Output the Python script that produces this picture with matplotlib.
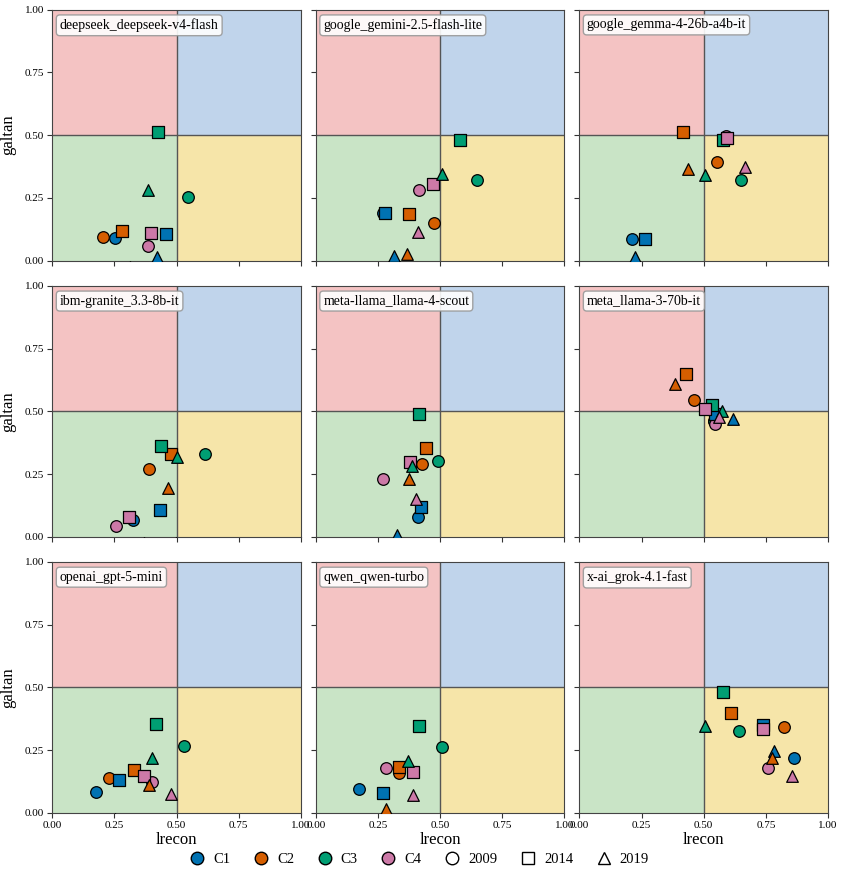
import numpy as np
import matplotlib
matplotlib.use('Agg')
import matplotlib.pyplot as plt
from matplotlib.lines import Line2D

plt.rcParams['font.family'] = ['Liberation Serif', 'DejaVu Serif']

models = ['deepseek_deepseek-v4-flash', 'google_gemini-2.5-flash-lite', 'google_gemma-4-26b-a4b-it',
          'ibm-granite_3.3-8b-it', 'meta-llama_llama-4-scout', 'meta_llama-3-70b-it',
          'openai_gpt-5-mini', 'qwen_qwen-turbo', 'x-ai_grok-4.1-fast']
clusters = ['C1', 'C2', 'C3', 'C4']
years = ['2009', '2014', '2019']

# lrecon per model: rows C1..C4, cols 2009, 2014, 2019 (nan = not visible)
lrecon = [
    [[0.251, 0.457, 0.423], [0.204, 0.281, np.nan], [0.544, 0.426, 0.386], [0.386, 0.398, 0.313]],
    [[0.270, 0.278, 0.314], [0.476, 0.374, 0.365], [0.649, 0.580, 0.506], [0.416, 0.470, 0.412]],
    [[0.213, 0.265, 0.225], [0.552, 0.416, 0.437], [0.652, 0.578, 0.504], [0.590, 0.594, 0.666]],
    [[0.323, 0.434, 0.496], [0.388, 0.477, 0.465], [0.613, 0.438, 0.501], [0.257, 0.310, 0.370]],
    [[0.409, 0.424, 0.327], [0.425, 0.442, 0.374], [0.493, 0.416, 0.386], [0.272, 0.377, 0.404]],
    [[0.540, 0.547, 0.617], [0.461, 0.430, 0.384], [0.540, 0.534, 0.575], [0.546, 0.504, 0.563]],
    [[0.176, 0.270, 0.251], [0.228, 0.327, 0.387], [0.528, 0.419, 0.399], [0.399, 0.368, 0.476]],
    [[0.173, 0.271, np.nan], [0.335, 0.335, 0.284], [0.507, 0.413, 0.369], [0.283, 0.392, 0.391]],
    [[0.863, 0.737, 0.782], [0.823, 0.611, 0.775], [0.642, 0.579, 0.505], [0.757, 0.737, 0.857]],
]
galtan = [
    [[0.091, 0.108, 0.013], [0.093, 0.117, np.nan], [0.252, 0.511, 0.280], [0.060, 0.109, -0.025]],
    [[0.191, 0.191, 0.019], [0.149, 0.184, 0.027], [0.323, 0.480, 0.344], [0.281, 0.304, 0.116]],
    [[0.085, 0.085, 0.013], [0.392, 0.512, 0.367], [0.323, 0.480, 0.343], [0.495, 0.490, 0.375]],
    [[0.067, 0.105, -0.025], [0.271, 0.329, 0.195], [0.329, 0.361, 0.318], [0.045, 0.077, -0.025]],
    [[0.078, 0.120, 0.008], [0.289, 0.355, 0.231], [0.303, 0.490, 0.281], [0.230, 0.297, 0.150]],
    [[0.460, 0.490, 0.468], [0.543, 0.648, 0.610], [0.460, 0.527, 0.503], [0.450, 0.510, 0.478]],
    [[0.085, 0.130, -0.025], [0.139, 0.171, 0.113], [0.268, 0.353, 0.220], [0.124, 0.149, 0.076]],
    [[0.097, 0.081, np.nan], [0.158, 0.184, 0.016], [0.261, 0.347, 0.208], [0.178, 0.164, 0.072]],
    [[0.219, 0.352, 0.248], [0.343, 0.400, 0.218], [0.327, 0.481, 0.345], [0.178, 0.335, 0.149]],
]

colors = ['#0072B2', '#D55E00', '#009E73', '#CC79A7']
markers = ['o', 's', '^']
quad = {'tl': '#f4c3c3', 'tr': '#c0d4eb', 'bl': '#c9e4c6', 'br': '#f6e5a9'}

fig, axes = plt.subplots(3, 3, figsize=(8.44, 8.76), dpi=100, sharex=True, sharey=True)
fig.subplots_adjust(left=0.062, right=0.981, top=0.989, bottom=0.072, wspace=0.06, hspace=0.1)

for k, ax in enumerate(axes.flat):
    ax.axhspan(0.5, 1, 0, 0.5, color=quad['tl'], lw=0)
    ax.axhspan(0.5, 1, 0.5, 1, color=quad['tr'], lw=0)
    ax.axhspan(0, 0.5, 0, 0.5, color=quad['bl'], lw=0)
    ax.axhspan(0, 0.5, 0.5, 1, color=quad['br'], lw=0)
    ax.axhline(0.5, color='#555555', lw=1)
    ax.axvline(0.5, color='#555555', lw=1)
    for j in range(3):
        for i in range(4):
            ax.scatter(lrecon[k][i][j], galtan[k][i][j], s=70, marker=markers[j],
                       color=colors[i], edgecolor='black', linewidth=0.9, zorder=3)
    ax.set_xlim(0, 1)
    ax.set_ylim(0, 1)
    ax.set_xticks([0, 0.25, 0.5, 0.75, 1.0])
    ax.set_yticks([0, 0.25, 0.5, 0.75, 1.0])
    ax.tick_params(labelsize=8, color='#333333', length=3.5, pad=2.5)
    for sp in ax.spines.values():
        sp.set_color('#444444')
    ax.text(0.03, 0.965, models[k], transform=ax.transAxes, ha='left', va='top', fontsize=10,
            bbox=dict(boxstyle='round,pad=0.25', facecolor='white', edgecolor='#999999', alpha=0.9), zorder=5)
    if k % 3 == 0:
        ax.set_ylabel('galtan', fontsize=12, labelpad=6)
    if k >= 6:
        ax.set_xlabel('lrecon', fontsize=12, labelpad=1)

handles = [Line2D([], [], ls='', marker='o', color=c, markeredgecolor='black', markersize=9, label=l)
           for c, l in zip(colors, clusters)]
handles += [Line2D([], [], ls='', marker=m, markerfacecolor='white', markeredgecolor='black', markersize=9, label=y)
            for m, y in zip(markers, years)]
fig.legend(handles=handles, loc='lower center', ncol=7, frameon=False, fontsize=10.5,
           bbox_to_anchor=(0.497, -0.004), handlelength=1.0, handletextpad=0.6, columnspacing=1.6)

fig.savefig('out.png', dpi=100)
